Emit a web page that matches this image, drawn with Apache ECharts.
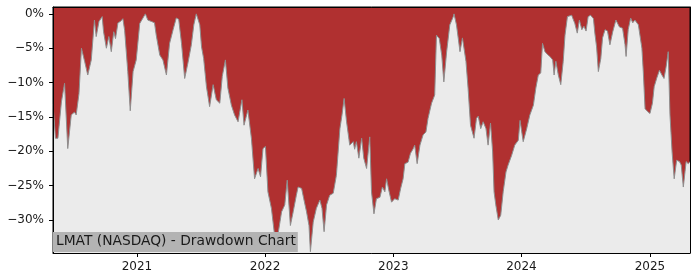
<!DOCTYPE html>
<html>
<head>
<meta charset="utf-8">
<script src="https://cdn.jsdelivr.net/npm/echarts@6/dist/echarts.min.js"></script>
<style>
html,body{margin:0;padding:0;background:#fff;}
#chart{width:700px;height:280px;}
</style>
</head>
<body>
<div id="chart"></div>
<script>
const dates = [
'2020-05-07','2020-05-14','2020-05-21','2020-05-31','2020-06-09','2020-06-18','2020-06-28','2020-07-07','2020-07-12','2020-07-20',
'2020-07-27','2020-08-05','2020-08-14','2020-08-24','2020-09-02','2020-09-07','2020-09-15','2020-09-24','2020-09-28','2020-10-06',
'2020-10-13','2020-10-20','2020-10-27','2020-11-01','2020-11-08','2020-11-15','2020-11-22','2020-11-27','2020-12-06','2020-12-13',
'2020-12-21','2020-12-30',
'2021-01-09','2021-01-25','2021-02-01','2021-02-11','2021-02-20','2021-02-25','2021-03-07','2021-03-16','2021-03-26','2021-04-04',
'2021-04-14','2021-04-23','2021-04-30','2021-05-08','2021-05-17','2021-05-26','2021-06-05','2021-06-12','2021-06-19','2021-06-29',
'2021-07-04','2021-07-10','2021-07-18','2021-07-27','2021-08-06','2021-08-15','2021-08-25','2021-09-01','2021-09-10','2021-09-17',
'2021-09-27','2021-10-06','2021-10-16','2021-10-27','2021-11-02','2021-11-13','2021-11-23','2021-12-02','2021-12-12','2021-12-19',
'2021-12-26',
'2022-01-02','2022-01-09','2022-01-19','2022-01-28','2022-02-07','2022-02-17','2022-02-26','2022-03-05','2022-03-14','2022-03-22',
'2022-03-31','2022-04-05','2022-04-15','2022-04-21','2022-04-29','2022-05-06','2022-05-10','2022-05-18','2022-05-27','2022-06-06',
'2022-06-12','2022-06-18','2022-06-25','2022-07-04','2022-07-14','2022-07-23','2022-08-02','2022-08-08','2022-08-14','2022-08-21',
'2022-08-30','2022-09-09','2022-09-13','2022-09-18','2022-09-25','2022-10-03','2022-10-09','2022-10-17','2022-10-26','2022-10-31',
'2022-11-07','2022-11-14','2022-11-24','2022-12-01','2022-12-08','2022-12-13','2022-12-19','2022-12-27',
'2023-01-05','2023-01-15','2023-01-22','2023-01-29','2023-02-03','2023-02-12','2023-02-19','2023-02-27','2023-03-03','2023-03-10',
'2023-03-18','2023-03-27','2023-04-04','2023-04-10','2023-04-20','2023-04-29','2023-05-04','2023-05-12','2023-05-19','2023-05-25',
'2023-06-02','2023-06-11','2023-06-21','2023-06-23','2023-06-30','2023-07-10','2023-07-17','2023-07-27','2023-08-02','2023-08-09',
'2023-08-19','2023-08-26','2023-08-31','2023-09-07','2023-09-14','2023-09-22','2023-09-28','2023-10-05','2023-10-11','2023-10-15',
'2023-10-20','2023-10-27','2023-11-03','2023-11-10','2023-11-18','2023-11-24','2023-12-04','2023-12-13','2023-12-23','2023-12-28',
'2024-01-06','2024-01-16','2024-01-25','2024-02-04','2024-02-11','2024-02-18','2024-02-25','2024-03-01','2024-03-08','2024-03-15',
'2024-03-22','2024-03-30','2024-04-03','2024-04-08','2024-04-15','2024-04-22','2024-04-29','2024-05-04','2024-05-11','2024-05-23',
'2024-06-01','2024-06-08','2024-06-14','2024-06-21','2024-06-27','2024-07-03','2024-07-09','2024-07-16','2024-07-24','2024-07-28',
'2024-08-02','2024-08-07','2024-08-14','2024-08-19','2024-08-26','2024-09-02','2024-09-09','2024-09-17','2024-09-26','2024-10-06',
'2024-10-15','2024-10-22','2024-10-25','2024-10-31','2024-11-07','2024-11-13','2024-11-19','2024-11-29','2024-12-09','2024-12-13',
'2024-12-18','2024-12-25',
'2025-01-01','2025-01-08','2025-01-13','2025-01-20','2025-01-28','2025-02-04','2025-02-10','2025-02-16','2025-02-22','2025-02-27',
'2025-03-05','2025-03-11','2025-03-18','2025-03-26','2025-03-31','2025-04-06','2025-04-14','2025-04-20','2025-04-25'
];
const drawdown = [
-13.1,-18.1,-18.1,-12.8,-10.1,-19.6,-14.7,-14.3,-14.7,-11.6,
-5.0,-6.9,-8.9,-6.7,-0.9,-3.3,-1.1,-0.4,-2.6,-5.0,
-3.3,-5.5,-2.6,-3.6,-1.3,-1.1,-0.7,-2.4,-8.4,-14.1,
-8.4,-6.7,
-1.4,0,-0.9,-1.1,-1.3,-3.1,-6.0,-6.7,-8.9,-4.3,
-2.3,-0.6,-0.8,-4.3,-9.4,-7.2,-4.5,-1.6,0,-1.6,
-4.8,-6.5,-10.6,-13.5,-10.3,-12.5,-13.0,-9.1,-6.7,-10.8,
-13.3,-14.7,-15.7,-12.5,-16.2,-14.0,-18.1,-24.0,-22.5,-23.7,
-19.6,
-19.3,-25.9,-28.3,-32.2,-32.0,-28.8,-27.8,-24.2,-30.8,-28.8,
-26.4,-25.2,-25.4,-26.9,-28.8,-30.8,-34.6,-30.3,-28.3,-27.1,
-28.3,-31.7,-27.8,-26.4,-26.1,-23.5,-16.7,-14.7,-12.3,-15.7,
-19.1,-18.6,-19.7,-18.6,-21.0,-18.1,-21.0,-22.5,-17.9,-25.9,
-29.1,-26.9,-26.7,-25.2,-25.9,-24.0,-25.6,-27.4,
-26.9,-27.1,-25.4,-24.0,-21.8,-21.6,-20.3,-19.6,-19.1,-21.8,
-19.1,-17.6,-17.2,-15.2,-13.0,-11.8,-3.1,-3.6,-6.0,-9.9,
-5.5,-1.6,-0.4,0,-1.6,-5.5,-3.5,-6.9,-10.8,-16.2,
-18.1,-15.2,-14.9,-16.7,-15.7,-16.7,-19.1,-15.9,-20.1,-25.9,
-27.8,-30.0,-29.3,-25.9,-23.0,-22.0,-20.6,-19.1,-18.4,-15.5,
-18.6,-16.7,-14.7,-13.3,-10.8,-8.9,-8.6,-4.3,-5.5,-5.9,
-6.2,-6.7,-8.9,-6.9,-8.9,-10.3,-6.9,-3.1,-0.4,-0.2,
-1.4,-2.8,-0.9,-2.3,-1.8,-2.5,-0.4,-0.2,-0.7,-2.8,
-4.8,-8.4,-6.5,-3.5,-2.3,-2.5,-4.5,-2.6,-0.9,-1.9,
-2.1,-4.5,-6.2,-2.3,-0.6,-1.3,-0.9,-1.6,-5.0,-8.4,
-13.8,-14.2,
-14.5,-13.0,-10.6,-9.4,-8.2,-8.9,-9.4,-7.7,-5.5,-14.7,
-20.1,-24.0,-21.3,-21.5,-22.0,-25.2,-21.5,-21.8,-21.5
];
const yearTicks = ['2021-01-01','2022-01-01','2023-01-01','2024-01-01','2025-01-01'];
const yTicks = [0,-5,-10,-15,-20,-25,-30];
const title = 'LMAT (NASDAQ) - Drawdown Chart';

const FONT = 'DejaVu Sans';
const ts = s => Date.parse(s + 'T00:00:00Z');
const yearTs = yearTicks.map(ts);
const xMin = ts(dates[0]);
const xMax = ts(dates[dates.length - 1]);
const chart = echarts.init(document.getElementById('chart'), null, {renderer:'canvas'});
chart.setOption({
  animation: false,
  title: {
    text: title, left: 53, top: 232,
    padding: [2, 2, 3, 3],
    backgroundColor: '#b3b3b3',
    textStyle: {fontFamily: FONT, fontSize: 13.8, fontWeight: 'normal', color: '#1a1a1a', lineHeight: 15}
  },
  grid: {
    left: 53, right: 10, top: 7, bottom: 27,
    show: true, backgroundColor: '#b03030', borderColor: '#000', borderWidth: 1
  },
  xAxis: [{
    type: 'value', min: xMin, max: xMax, z: 5,
    axisLine: {show: true, onZero: false, lineStyle: {color: '#000', width: 1}},
    axisTick: {show: true, length: 4, customValues: yearTs, lineStyle: {color: '#000'}},
    axisLabel: {customValues: yearTs, formatter: v => String(new Date(v).getUTCFullYear()),
      fontFamily: FONT, fontSize: 12, color: '#1a1a1a', margin: 8},
    splitLine: {show: false}
  }, {
    type: 'value', position: 'top', min: xMin, max: xMax, z: 5,
    axisLine: {show: true, onZero: false, lineStyle: {color: '#000', width: 1}},
    axisTick: {show: false}, axisLabel: {show: false}, splitLine: {show: false}
  }],
  yAxis: [{
    type: 'value', min: -34.8, max: 1.0, z: 5,
    axisLine: {show: true, onZero: false, lineStyle: {color: '#000', width: 1}},
    axisTick: {show: true, length: 4, customValues: yTicks, lineStyle: {color: '#000'}},
    axisLabel: {customValues: yTicks, formatter: v => (v === 0 ? '0%' : '\u2212' + Math.abs(v) + '%'),
      fontFamily: FONT, fontSize: 12, color: '#1a1a1a', margin: 9},
    splitLine: {show: false}
  }, {
    type: 'value', position: 'right', min: -34.8, max: 1.0, z: 5,
    axisLine: {show: true, onZero: false, lineStyle: {color: '#000', width: 1}},
    axisTick: {show: false}, axisLabel: {show: false}, splitLine: {show: false}
  }],
  series: [{
    type: 'line',
    data: dates.map((d, i) => [ts(d), drawdown[i]]),
    showSymbol: false, symbol: 'none', smooth: false,
    lineStyle: {color: '#8e8e8e', width: 1},
    areaStyle: {color: '#ebebeb', origin: 'start', opacity: 1},
    z: 2
  }]
});
</script>
</body>
</html>
